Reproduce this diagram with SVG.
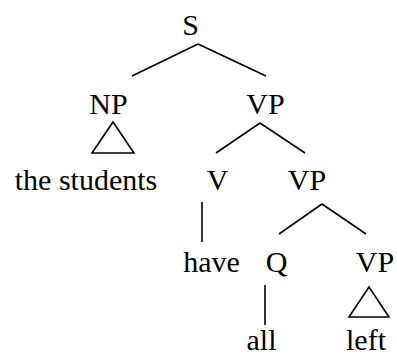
<svg xmlns="http://www.w3.org/2000/svg" width="397" height="357" viewBox="0 0 397 357">
<style>
text{font-family:'Liberation Serif','DejaVu Serif','Times New Roman',serif;font-size:30px;fill:#000;text-anchor:middle}
line,polygon{stroke:#000;stroke-width:1.6;fill:none}
</style>
<rect width="397" height="357" fill="#fff"/>
<g id="connectors">
<line x1="198" y1="44" x2="132" y2="76"/>
<line x1="198" y1="44" x2="266" y2="76"/>
<polygon points="113,122 92,153 134,153"/>
<line x1="260" y1="123" x2="216" y2="153"/>
<line x1="260" y1="123" x2="305" y2="153"/>
<line x1="202" y1="202" x2="202" y2="242"/>
<line x1="322" y1="204" x2="279" y2="234"/>
<line x1="322" y1="204" x2="366" y2="234"/>
<line x1="265" y1="285" x2="265" y2="325"/>
<polygon points="369,287 349,317 389,317"/>
</g>
<g id="S"><text x="190.5" y="35">S</text></g>
<g id="NP"><text x="108.5" y="114">NP</text></g>
<g id="VP1"><text x="265.5" y="114">VP</text></g>
<g id="students"><text x="86" y="190">the students</text></g>
<g id="V"><text x="217.5" y="190">V</text></g>
<g id="VP2"><text x="307" y="190">VP</text></g>
<g id="have"><text x="211.5" y="272">have</text></g>
<g id="Q"><text x="276.5" y="272">Q</text></g>
<g id="VP3"><text x="375" y="272">VP</text></g>
<g id="all"><text x="261.5" y="350">all</text></g>
<g id="left"><text x="366" y="350">left</text></g>
</svg>
